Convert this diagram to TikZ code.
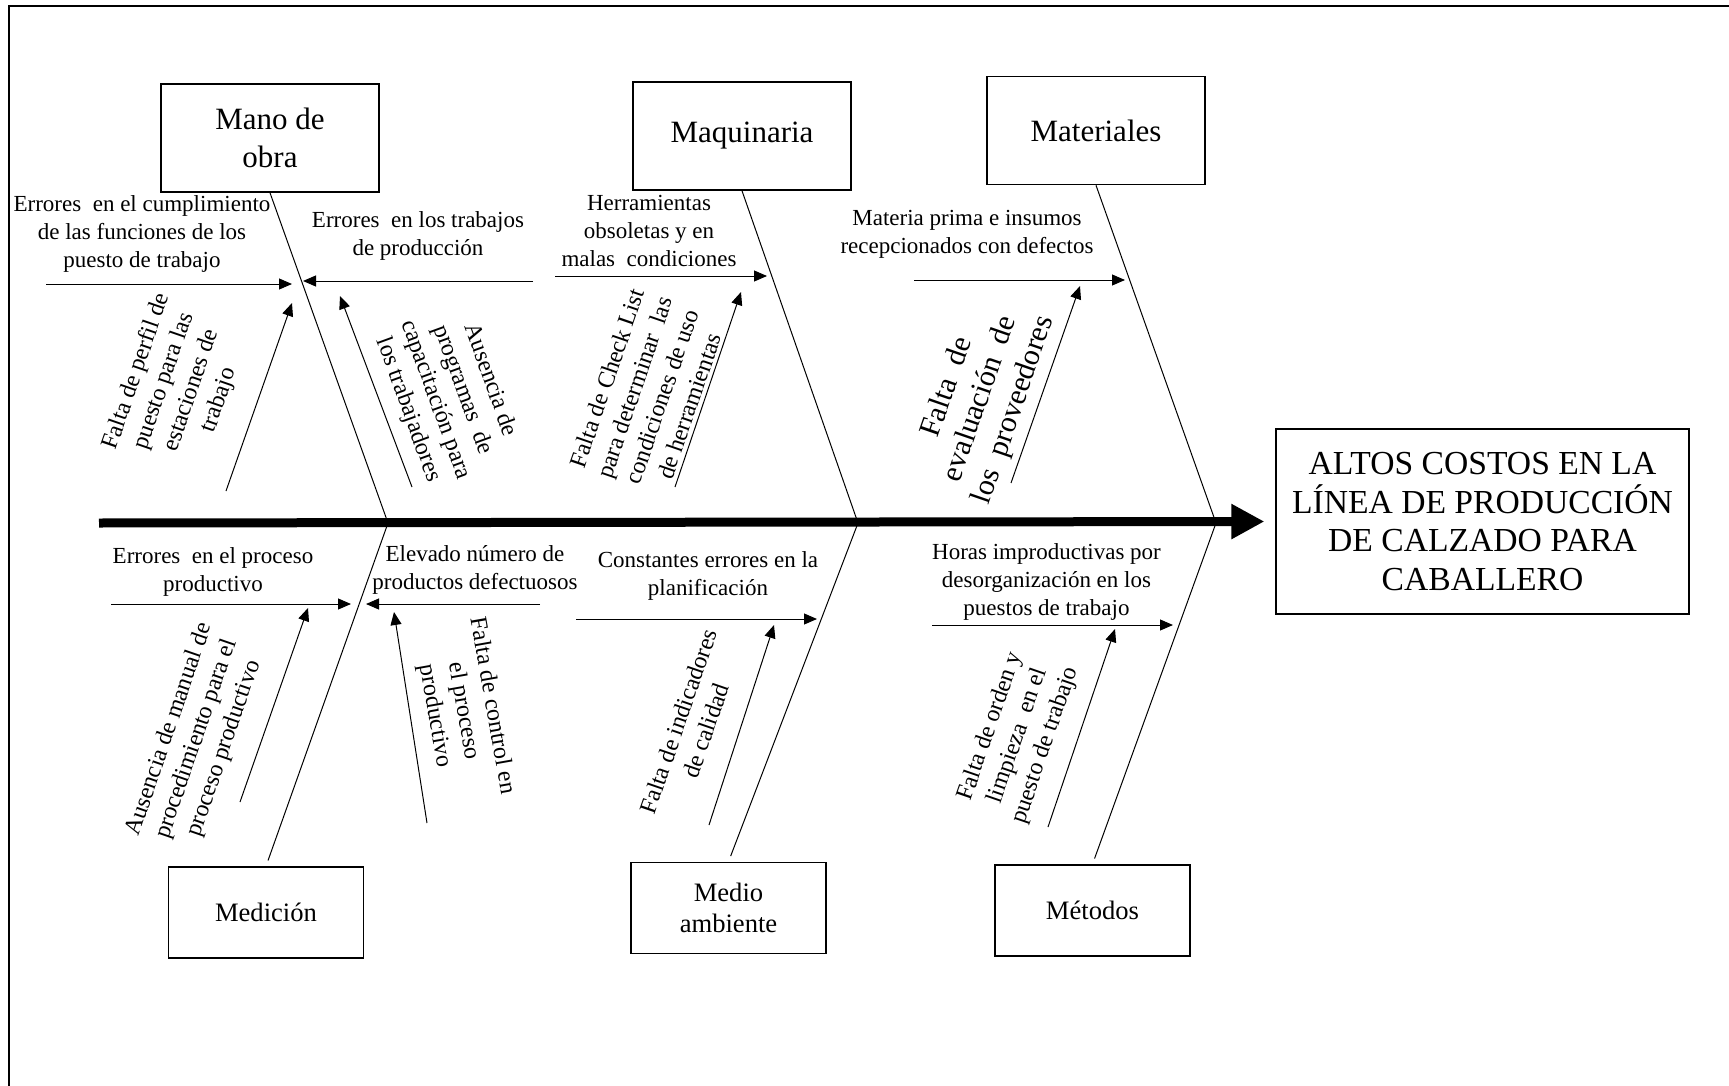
\documentclass[tikz,border=0pt]{standalone}
\usepackage{fontspec}
\setmainfont{Liberation Serif}
\usetikzlibrary{arrows.meta}

\begin{document}
\begin{tikzpicture}[x=0.5pt,y=-0.5pt,
  catbox/.style={draw, line width=0.8pt, inner sep=0pt, align=center},
  topcat/.style={catbox, minimum width=109pt, minimum height=54pt, font=\fontsize{15.5}{19.3}\selectfont},
  botcat/.style={catbox, minimum width=97.5pt, minimum height=45.5pt, font=\fontsize{13.3}{15.5}\selectfont},
  effectbox/.style={draw, line width=0.6pt, align=center, inner sep=0pt,
    minimum width=206.5pt, minimum height=92.5pt, font=\fontsize{16.8}{19.2}\selectfont},
  bone/.style={line width=0.5pt},
  cause/.style={line width=0.5pt, -{Triangle[length=6.5pt,width=5.5pt]}},
  spine/.style={line width=4.5pt, -{Triangle[length=16.5pt,width=16.5pt]}},
  hlabel/.style={align=center, inner sep=0pt, font=\fontsize{11.5}{14}\selectfont},
  rlabel/.style={align=center, inner sep=0pt, font=\fontsize{12}{14.5}\selectfont},
]
\useasboundingbox (0,0) rectangle (1729,1086);

% page frame
\draw[line width=1pt] (9,1086) -- (9,6) -- (1729,6);

% effect and category boxes
\node[effectbox] (effect) at (1482.5,521.5) {ALTOS COSTOS EN LA\\LÍNEA DE PRODUCCIÓN\\DE CALZADO PARA\\CABALLERO};
\node[topcat] (mano) at (270,138) {Mano de\\obra};
\node[topcat] (maq)  at (742,136) {Maquinaria};
\node[topcat] (mat)  at (1096,130.5) {Materiales};
\node[botcat] (med)  at (266,912.5) {Medición};
\node[botcat] (amb)  at (728.5,908) {Medio\\ambiente};
\node[botcat] (met)  at (1092.5,910.5) {Métodos};

% spine
\coordinate (tail) at (99,523);
\coordinate (s1) at (388,523);
\coordinate (s2) at (858,523);
\coordinate (s3) at (1216,523);
\draw[spine] (tail) -- ([xshift=-5.5pt]effect.west);

% main bones
\draw[bone] (mano.south) -- (s1);
\draw[bone] (maq.south) -- (s2);
\draw[bone] (mat.south) -- (s3);
\draw[bone, shorten >=3pt] (s1) -- (med.north);
\draw[bone, shorten >=3pt] (s2) -- (amb.north);
\draw[bone, shorten >=3pt] (s3) -- (met.north);

% ---- Mano de obra
\coordinate (a1t) at (46,284);  \coordinate (a1h) at (292,284);
\coordinate (a2t) at (533,281); \coordinate (a2h) at (303,281);
\coordinate (a3t) at (226,491); \coordinate (a3h) at (292,303);
\coordinate (a4t) at (412,487); \coordinate (a4h) at (340,296);
\draw[cause] (a1t) -- (a1h);
\draw[cause] (a2t) -- (a2h);
\draw[cause] (a3t) -- (a3h);
\draw[cause] (a4t) -- (a4h);
\node[hlabel] (la1) at (142,234) {Errores\ \ en el cumplimiento\\de las funciones de los\\puesto de trabajo};
\node[hlabel] (la2) at (418,236) {Errores\ \ en los trabajos\\de producción};
\node[rlabel, rotate=71] (la3) at (178,386) {Falta de perfil de\\puesto para las\\estaciones de\\trabajo};
\node[rlabel, rotate=-70] (la4) at (449,395) {Ausencia de\\programas\ \ de\\capacitación para\\los trabajadores};

% ---- Maquinaria
\coordinate (b1t) at (555,276); \coordinate (b1h) at (767,276);
\coordinate (b2t) at (675,487); \coordinate (b2h) at (741,292);
\draw[cause] (b1t) -- (b1h);
\draw[cause] (b2t) -- (b2h);
\node[hlabel] (lb1) at (649,230.5) {Herramientas\\obsoletas y en\\malas\ \ condiciones};
\node[rlabel, rotate=71] (lb2) at (648,392) {Falta de Check List\\para determinar\ \ las\\condiciones de uso\\de herramientas};

% ---- Materiales
\coordinate (c1t) at (914,280); \coordinate (c1h) at (1125,280);
\coordinate (c2t) at (1011,483); \coordinate (c2h) at (1080,286);
\draw[cause] (c1t) -- (c1h);
\draw[cause] (c2t) -- (c2h);
\node[hlabel] (lc1) at (967,234) {Materia prima\ e insumos\\recepcionados con defectos};
\node[rlabel, rotate=71, font=\fontsize{15}{17.5}\selectfont] (lc2) at (981,399) {Falta\ \ de\\evaluación\ \ de\\los\ \ proveedores};

% ---- Medición
\coordinate (d1t) at (111,604); \coordinate (d1h) at (351,604);
\coordinate (d2t) at (540,604); \coordinate (d2h) at (366,604);
\coordinate (d3t) at (240,802); \coordinate (d3h) at (308,608);
\coordinate (d4t) at (427,823); \coordinate (d4h) at (394,612);
\draw[cause] (d1t) -- (d1h);
\draw[cause] (d2t) -- (d2h);
\draw[cause] (d3t) -- (d3h);
\draw[cause] (d4t) -- (d4h);
\node[hlabel] (ld1) at (213,572) {Errores\ \ en el proceso\\productivo};
\node[hlabel] (ld2) at (475,569.5) {Elevado número de\\productos defectuosos};
\node[rlabel, rotate=71] (ld3) at (197,739) {Ausencia de manual de\\procedimiento para el\\proceso productivo};
\node[rlabel, rotate=-80] (ld4) at (463,711) {Falta de control en\\el proceso\\productivo};

% ---- Medio ambiente
\coordinate (e1t) at (576,619); \coordinate (e1h) at (817,619);
\coordinate (e2t) at (709,825); \coordinate (e2h) at (774,625);
\draw[cause] (e1t) -- (e1h);
\draw[cause] (e2t) -- (e2h);
\node[hlabel] (le1) at (708,576) {Constantes errores en la\\planificación};
\node[rlabel, rotate=71] (le2) at (692,726) {Falta de indicadores\\de calidad};

% ---- Métodos
\coordinate (f1t) at (932,625); \coordinate (f1h) at (1173,625);
\coordinate (f2t) at (1048,827); \coordinate (f2h) at (1115,629);
\draw[cause] (f1t) -- (f1h);
\draw[cause] (f2t) -- (f2h);
\node[hlabel] (lf1) at (1046.5,581.7) {Horas improductivas\ por\\desorganización en los\\puestos de trabajo};
\node[rlabel, rotate=71] (lf2) at (1018,736) {Falta de orden y\\limpieza\ \ en el\\puesto de trabajo};
\end{tikzpicture}
\end{document}
